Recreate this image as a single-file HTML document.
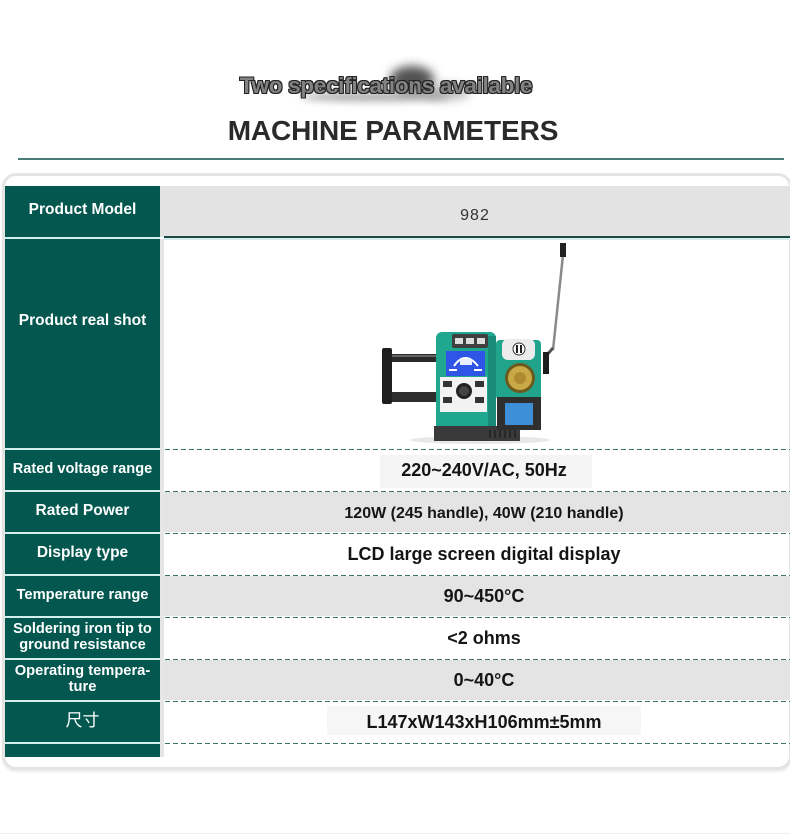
<!DOCTYPE html>
<html><head><meta charset="utf-8">
<style>
*{margin:0;padding:0;box-sizing:border-box}
body{width:790px;height:834px;background:#fff;position:relative;overflow:hidden;font-family:"Liberation Sans","Noto Sans CJK SC",sans-serif}
.a{position:absolute}
.lab{position:absolute;left:5px;width:155px;background:#03574f;color:#fff;font-weight:bold;display:flex;align-items:center;justify-content:center;text-align:center;line-height:16px;white-space:nowrap;padding-bottom:3px;font-size:15.5px}
.val{position:absolute;left:164px;width:626px;height:40px;display:flex;align-items:center;justify-content:center;font-weight:bold;color:#151515;font-size:18px;padding-left:14px;white-space:nowrap}
.dash{position:absolute;left:165px;width:625px;height:1px;background:repeating-linear-gradient(to right,#3a7570 0 5px,transparent 5px 8px)}
.gray{position:absolute;left:164px;width:626px;height:40px;background:#e4e4e4}
</style></head><body>

<!-- smudge behind subtitle -->
<div class="a" style="left:390px;top:66px;width:44px;height:26px;border-radius:50%;background:#333;filter:blur(5px);opacity:.85"></div>
<div class="a" style="left:300px;top:93px;width:150px;height:8px;border-radius:50%;background:#555;filter:blur(4px);opacity:.55"></div>
<div class="a" style="left:420px;top:84px;width:50px;height:16px;border-radius:50%;background:#777;filter:blur(5px);opacity:.5"></div>

<div class="a" style="left:0;top:73px;width:790px;text-align:center;font-size:22.5px;font-weight:bold;color:#828282;letter-spacing:-0.3px;padding-right:18px;text-shadow:1px 0 0 #222,-1px 0 0 #222,0 1px 0 #222,0 -1px 0 #222,1px 1px 0 #222,-1px -1px 0 #222,1px -1px 0 #222,-1px 1px 0 #222">Two specifications available</div>

<div class="a" style="left:0;top:115px;width:790px;text-align:center;font-size:28px;font-weight:bold;color:#2a2a2a;padding-right:4px;letter-spacing:-0.1px">MACHINE PARAMETERS</div>

<div class="a" style="left:18px;top:158px;width:766px;height:2px;background:#4b7b77"></div>

<!-- card -->
<div class="a" style="left:2px;top:173px;width:790px;height:597px;border:3px solid #e4e4e4;border-radius:14px;box-shadow:0 2px 2px rgba(0,0,0,0.08)"></div>

<!-- teal column background separators -->
<div class="a" style="left:5px;top:186px;width:155px;height:571px;background:#d2efeb"></div>
<!-- gray strip -->
<div class="a" style="left:160px;top:239px;width:4px;height:518px;background:#e6e6e6"></div>

<!-- row 1 -->
<div class="a" style="left:160px;top:186px;width:630px;height:51px;background:#e3e3e3"></div>
<div class="a" style="left:164px;top:236px;width:626px;height:2px;background:#1d4a45"></div>
<div class="a" style="left:164px;top:238px;width:626px;height:2px;background:#d6eeeb"></div>
<div class="lab" style="top:186px;height:51px">Product Model</div>
<div class="a" style="left:160px;top:190px;width:630px;height:51px;display:flex;align-items:center;justify-content:center;font-size:16px;color:#333;letter-spacing:1px">982</div>

<!-- row 2 -->
<div class="lab" style="top:239px;height:209px;padding-bottom:46px">Product real shot</div>
<svg class="a" style="left:370px;top:240px" width="200" height="208" viewBox="0 0 200 208">
  <ellipse cx="110" cy="200" rx="70" ry="4" fill="#e8e8e8"/>
  <!-- reel holder -->
  <rect x="20" y="152" width="50" height="10" fill="#2e2e2e"/>
  <rect x="15" y="114" width="56" height="8" fill="#2a2a2a"/>
  <rect x="15" y="115" width="56" height="2" fill="#666"/>
  <rect x="12" y="108" width="10" height="56" rx="2" fill="#1e1e1e"/>
  <!-- main body -->
  <rect x="66" y="92" width="60" height="100" rx="6" fill="#1fa88f"/>
  <rect x="118" y="96" width="8" height="94" fill="#178b77"/>
  <rect x="82" y="94" width="36" height="14" rx="2" fill="#3f3f3f"/>
  <rect x="85" y="98" width="8" height="6" fill="#ddd"/>
  <rect x="96" y="98" width="8" height="6" fill="#ddd"/>
  <rect x="107" y="98" width="8" height="6" fill="#ddd"/>
  <rect x="76" y="111" width="39" height="25" fill="#2f55e6"/>
  <path d="M84 126 Q95 110 108 126" stroke="#fff" stroke-width="2" fill="none"/>
  <rect x="90" y="119" width="12" height="6" fill="#e8eeff"/>
  <rect x="79" y="129" width="8" height="2" fill="#fff"/>
  <rect x="104" y="129" width="8" height="2" fill="#fff"/>
  <rect x="70" y="137" width="47" height="35" fill="#f2f2f2"/>
  <rect x="73" y="141" width="9" height="6" fill="#333"/>
  <rect x="105" y="141" width="9" height="6" fill="#333"/>
  <rect x="73" y="157" width="9" height="6" fill="#333"/>
  <rect x="105" y="157" width="9" height="6" fill="#333"/>
  <circle cx="94" cy="151" r="8" fill="#222"/>
  <circle cx="94" cy="151" r="5" fill="#444"/>
  <!-- base -->
  <rect x="64" y="186" width="86" height="15" fill="#3a3a3a"/>
  <g stroke="#222" stroke-width="1.5">
    <line x1="130" y1="190" x2="130" y2="198"/><line x1="135" y1="190" x2="135" y2="198"/><line x1="140" y1="190" x2="140" y2="198"/><line x1="145" y1="190" x2="145" y2="198"/>
    <line x1="125" y1="190" x2="125" y2="198"/><line x1="120" y1="190" x2="120" y2="198"/>
  </g>
  <!-- right holder -->
  <rect x="126" y="100" width="45" height="60" rx="4" fill="#20a48c"/>
  <rect x="132" y="99" width="33" height="21" rx="6" fill="#ececec"/>
  <circle cx="149" cy="109" r="6" fill="#fff" stroke="#333" stroke-width="1"/>
  <rect x="146" y="105" width="2" height="8" fill="#222"/><rect x="150" y="105" width="2" height="8" fill="#222"/>
  <circle cx="150" cy="138" r="15" fill="#6b5a1e"/>
  <circle cx="150" cy="138" r="12" fill="#c9a848"/>
  <circle cx="150" cy="138" r="6" fill="#b08a30"/>
  <rect x="127" y="157" width="44" height="33" fill="#2f2f2f"/>
  <rect x="135" y="163" width="28" height="22" fill="#3d8fd8"/>
  <!-- rod -->
  <line x1="193" y1="15" x2="183" y2="110" stroke="#8a8a8a" stroke-width="2.5"/>
  <rect x="190" y="3" width="6" height="14" fill="#222"/>
  <path d="M183 108 L176 116" stroke="#555" stroke-width="3"/>
  <rect x="173" y="112" width="6" height="22" fill="#1e1e1e"/>
</svg>

<!-- dashed separators -->
<div class="dash" style="top:449px"></div>
<div class="dash" style="top:491px"></div>
<div class="dash" style="top:533px"></div>
<div class="dash" style="top:575px"></div>
<div class="dash" style="top:617px"></div>
<div class="dash" style="top:659px"></div>
<div class="dash" style="top:701px"></div>
<div class="dash" style="top:743px"></div>

<!-- gray rows -->
<div class="gray" style="top:492px"></div>
<div class="gray" style="top:576px"></div>
<div class="gray" style="top:660px"></div>

<!-- highlight boxes -->
<div class="a" style="left:380px;top:455px;width:212px;height:33px;background:#f5f5f5"></div>
<div class="a" style="left:327px;top:706px;width:314px;height:29px;background:#f6f6f6"></div>

<!-- labels -->
<div class="lab" style="top:450px;height:40px;font-size:14.6px">Rated voltage range</div>
<div class="lab" style="top:492px;height:40px">Rated Power</div>
<div class="lab" style="top:534px;height:40px">Display type</div>
<div class="lab" style="top:576px;height:40px;font-size:14.7px">Temperature range</div>
<div class="lab" style="top:618px;height:40px;font-size:14.6px">Soldering iron tip to<br>ground resistance</div>
<div class="lab" style="top:660px;height:40px;font-size:14.7px">Operating tempera-<br>ture</div>
<div class="lab" style="top:702px;height:40px;font-weight:normal;font-size:17px">尺寸</div>
<div class="lab" style="top:744px;height:13px"></div>

<!-- values -->
<div class="val" style="top:450px">220~240V/AC, 50Hz</div>
<div class="val" style="top:494px;font-size:16px">120W (245 handle), 40W (210 handle)</div>
<div class="val" style="top:534px">LCD large screen digital display</div>
<div class="val" style="top:576px">90~450°C</div>
<div class="val" style="top:618px">&lt;2 ohms</div>
<div class="val" style="top:660px">0~40°C</div>
<div class="val" style="top:702px">L147xW143xH106mm±5mm</div>

<div class="a" style="left:0;top:833px;width:790px;height:1px;background:#eeeeee"></div>
</body></html>
